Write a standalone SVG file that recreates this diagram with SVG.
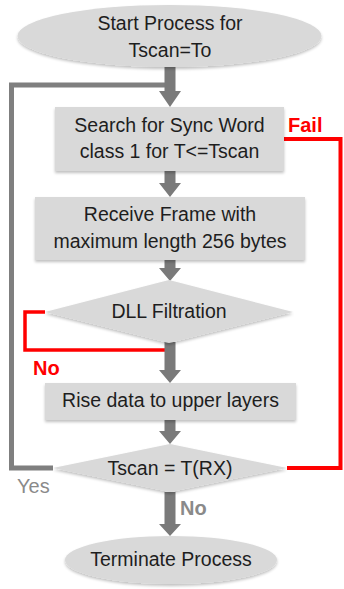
<svg xmlns="http://www.w3.org/2000/svg" width="344" height="589" viewBox="0 0 344 589">
  <defs>
    <filter id="sh" x="-10%" y="-20%" width="120%" height="150%">
      <feGaussianBlur in="SourceAlpha" stdDeviation="1.5"/>
      <feOffset dx="0" dy="1.5" result="b"/>
      <feComponentTransfer><feFuncA type="linear" slope="0.25"/></feComponentTransfer>
      <feMerge><feMergeNode/><feMergeNode in="SourceGraphic"/></feMerge>
    </filter>
  </defs>
  <style>
    .node { fill: #d9d9d9; filter: url(#sh); }
    .t { font-family: "Liberation Sans", Arial, sans-serif; font-size: 19.5px; fill: #1e1e1e; text-anchor: middle; }
    .arrow { fill: #7a7a7a; }
    .gray { fill: none; stroke: #7f7f7f; stroke-width: 5; }
    .red { fill: none; stroke: #ff0000; }
    .lblr { font-family: "Liberation Sans", Arial, sans-serif; font-size: 20px; font-weight: bold; fill: #ff0000; }
    .lblg { font-family: "Liberation Sans", Arial, sans-serif; font-size: 20px; fill: #8a8a8a; }
  </style>
  <rect width="344" height="589" fill="#ffffff"/>

  <g id="connectors">
    <polyline class="gray" points="53,468 11.5,468 11.5,85 166,85"/>
    <polyline class="red" stroke-width="4" points="287,468 340.5,468 340.5,139 284,139"/>
    <polyline class="red" stroke-width="3.5" points="45,312 25,312 25,350 166,350"/>
    <polygon class="arrow" points="164.5,67 175.5,67 175.5,91 181,91 170,107 159,91 164.5,91"/>
    <polygon class="arrow" points="164.5,171 175.5,171 175.5,183 181,183 170,197 159,183 164.5,183"/>
    <polygon class="arrow" points="164.5,260 175.5,260 175.5,268 181,268 170,281 159,268 164.5,268"/>
    <polygon class="arrow" points="164.5,342 175.5,342 175.5,370 181,370 170,383 159,370 164.5,370"/>
    <polygon class="arrow" points="164.5,420 175.5,420 175.5,431 181,431 170,444 159,431 164.5,431"/>
    <polygon class="arrow" points="164.5,492 175.5,492 175.5,524 181,524 170,536 159,524 164.5,524"/>
    <text class="lblr" x="288" y="132">Fail</text>
    <text class="lblr" x="33" y="375">No</text>
    <text class="lblg" x="17" y="493">Yes</text>
    <text class="lblg" x="180" y="515" font-weight="bold" fill="#7f7f7f">No</text>
  </g>

  <g id="start">
    <ellipse class="node" cx="169.5" cy="36" rx="152" ry="31"/>
    <text class="t" x="170" y="30">Start Process for</text>
    <text class="t" x="170" y="57">Tscan=To</text>
  </g>
  <g id="search">
    <rect class="node" x="55" y="107" width="229" height="64"/>
    <text class="t" x="169.5" y="132">Search for Sync Word</text>
    <text class="t" x="169.5" y="158">class 1 for T&lt;=Tscan</text>
  </g>
  <g id="receive">
    <rect class="node" x="35" y="197" width="270" height="63"/>
    <text class="t" x="170" y="221">Receive Frame with</text>
    <text class="t" x="170" y="248">maximum length 256 bytes</text>
  </g>
  <g id="dll">
    <polygon class="node" points="169,280 293,312 169,343 45,312"/>
    <text class="t" x="169" y="318">DLL Filtration</text>
  </g>
  <g id="rise">
    <rect class="node" x="45" y="383" width="251" height="37"/>
    <text class="t" x="170.5" y="407">Rise data to upper layers</text>
  </g>
  <g id="tscan">
    <polygon class="node" points="170,444 287,468 170,492 53,468"/>
    <text class="t" x="170" y="475">Tscan = T(RX)</text>
  </g>
  <g id="terminate">
    <ellipse class="node" cx="171" cy="560" rx="106" ry="24"/>
    <text class="t" x="171" y="566">Terminate Process</text>
  </g>
</svg>
